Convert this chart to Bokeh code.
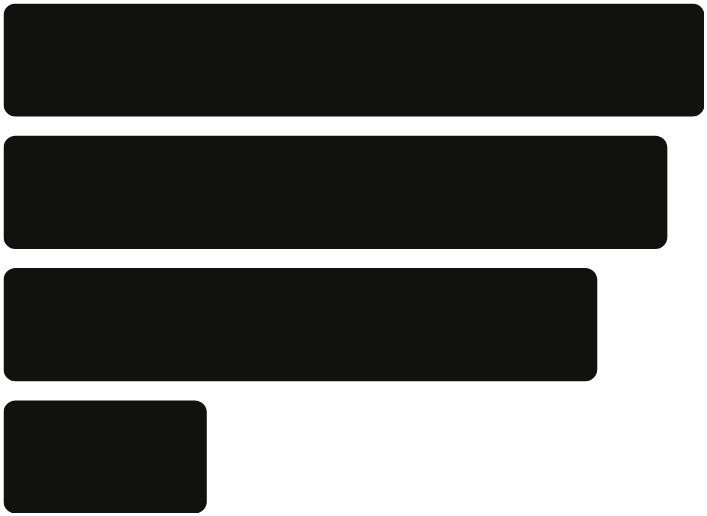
from bokeh.plotting import figure
from bokeh.models import ColumnDataSource, Range1d
from bokeh.embed import file_html
from bokeh.resources import INLINE

categories = ["A", "B", "C", "D"]
values = [100.0, 94.7, 84.7, 29.0]

positions = list(range(len(categories)))
source = ColumnDataSource(dict(y=positions, right=values, cat=categories))

p = figure(width=701, height=510, output_backend="svg", toolbar_location=None,
           x_range=Range1d(0, 100), y_range=Range1d(3.4275, -0.4275),
           min_border=0, min_border_left=0, min_border_right=0,
           min_border_top=0, min_border_bottom=0,
           margin=(3, 0, 0, 3))
p.hbar(y="y", left=0, right="right", height=0.855, source=source,
       fill_color="#111110", line_color=None, border_radius=12)
p.axis.visible = False
p.grid.visible = False
p.outline_line_color = None
p.background_fill_color = "white"
p.border_fill_color = "white"

open("out.html", "w").write(file_html(p, INLINE))
